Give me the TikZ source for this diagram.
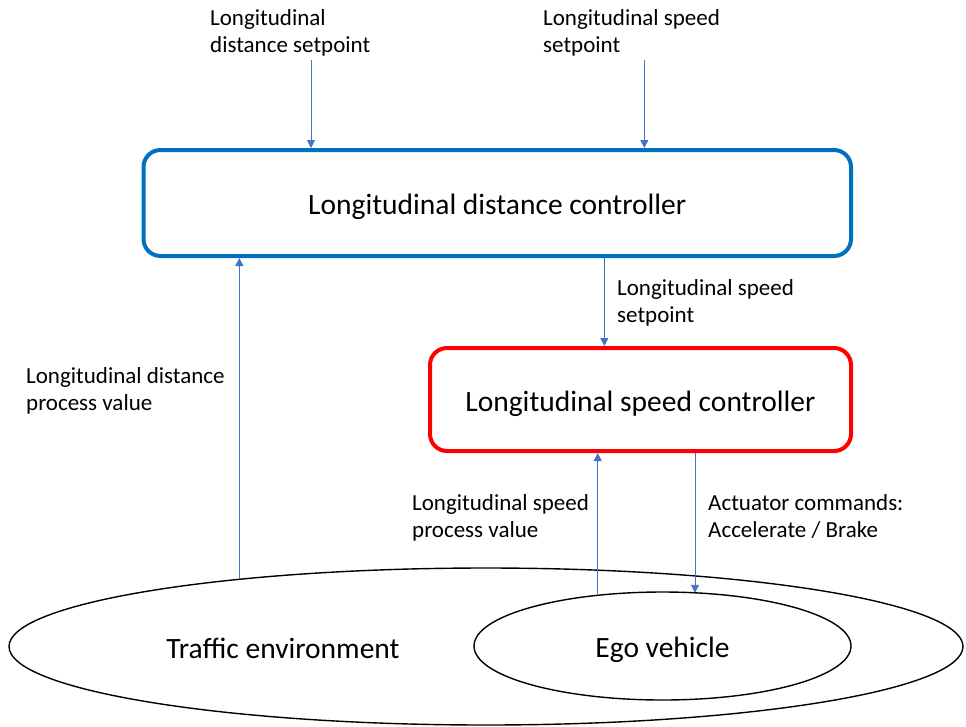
\documentclass[tikz,border=0pt]{standalone}
\usepackage{fontspec}
\setmainfont{Carlito}
\usetikzlibrary{arrows.meta,shapes.geometric}
\definecolor{ctrlblue}{HTML}{0070C0}
\definecolor{ctrlred}{HTML}{FF0000}
\definecolor{arrblue}{HTML}{4472C4}
\tikzset{
  ctrlbox/.style={draw, line width=4pt, rounded corners=17pt, inner sep=0pt, outer sep=2pt,
    font=\fontsize{29.5}{34}\selectfont, text height=29pt, text depth=6pt},
  arr/.style={draw=arrblue, line width=0.9pt, -{Triangle[length=8pt,width=8pt]}, arrblue},
  lbl/.style={anchor=north west, inner sep=0pt, align=left, font=\fontsize{23}{27.5}\selectfont},
  env/.style={draw, ellipse, line width=1.4pt, inner sep=0pt, outer sep=0pt},
  bigtext/.style={inner sep=0pt, font=\fontsize{29.5}{34}\selectfont}
}
\begin{document}
\begin{tikzpicture}[x=1pt, y=-1pt]
\useasboundingbox[fill=white] (0,0) rectangle (966,726);

% controllers
\node[ctrlbox, draw=ctrlblue, minimum width=707.5pt, minimum height=106pt] (dist) at (497.25,203) {Longitudinal distance controller};
\node[ctrlbox, draw=ctrlred, minimum width=421pt, minimum height=103pt] (speed) at (640.5,399.5) {Longitudinal speed controller};

% environment
\node[env, minimum width=954pt, minimum height=157pt] (traffic) at (486,646.5) {};
\node[bigtext] (traffictext) at (283,648) {Traffic environment};
\node[env, minimum width=377pt, minimum height=108pt, font=\fontsize{29.5}{34}\selectfont, text height=29pt, text depth=6pt] (ego) at (662.5,646) {Ego vehicle};

% labels
\node[lbl] (l1) at (210,9) {Longitudinal\\distance setpoint};
\node[lbl] (l2) at (543,9) {Longitudinal speed\\setpoint};
\node[lbl] (l3) at (617,279) {Longitudinal speed\\setpoint};
\node[lbl] (l4) at (26,367) {Longitudinal distance\\process value};
\node[lbl] (l5) at (412,494) {Longitudinal speed\\process value};
\node[lbl] (l6) at (708,494) {Actuator commands:\\Accelerate / Brake};

% connector anchors
\coordinate (s1) at (311,60);
\coordinate (s2) at (644.3,60);
\coordinate (x3) at (604.3,0);
\coordinate (e1) at (239.3,579.3);
\coordinate (e2) at (597.7,594);
\coordinate (e3) at (695,592.8);

% connectors
\draw[arr] (s1) -- (s1 |- dist.north);
\draw[arr] (s2) -- (s2 |- dist.north);
\draw[arr] (dist.south -| x3) -- (speed.north -| x3);
\draw[arr] (e1) -- (e1 |- dist.south);
\draw[arr] (e2) -- (e2 |- speed.south);
\draw[arr] (e3 |- speed.south) -- (e3);
\end{tikzpicture}
\end{document}
